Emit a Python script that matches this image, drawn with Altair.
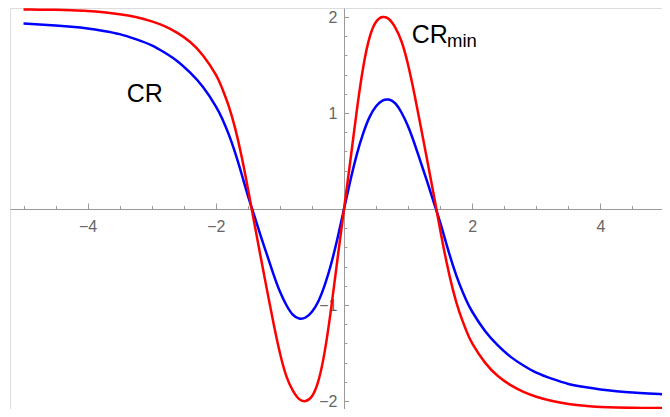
import altair as alt
import pandas as pd

# ---- data ----
x_vals = [-5.0, -4.75, -4.5, -4.25, -4.0, -3.75, -3.5, -3.25, -3.0, -2.8, -2.6, -2.4, -2.2, -2.0,
          -1.9, -1.8, -1.7, -1.6, -1.5, -1.4, -1.3, -1.2, -1.1, -1.0, -0.9, -0.8,
          -0.7, -0.6, -0.5, -0.4, -0.3, -0.2, -0.1, 0.0,
          0.1, 0.2, 0.3, 0.4, 0.5, 0.6, 0.7, 0.8, 0.9, 1.0, 1.1, 1.2, 1.3, 1.4,
          1.5, 1.6, 1.7, 1.8, 1.9, 2.0, 2.2, 2.4, 2.6, 2.8, 3.0, 3.25, 3.5, 3.75,
          4.0, 4.25, 4.5, 4.75, 5.0]

cr_min = [2.078, 2.077, 2.075, 2.07, 2.063, 2.05, 2.03, 2.00, 1.955, 1.905, 1.835, 1.74, 1.60, 1.40,
          1.255, 1.075, 0.845, 0.555, 0.215, -0.145, -0.50, -0.85, -1.19, -1.50, -1.74, -1.89,
          -1.98, -2.00, -1.95, -1.79, -1.48, -1.03, -0.51, 0.0,
          0.51, 1.03, 1.48, 1.79, 1.95, 2.00, 1.98, 1.89, 1.74, 1.50, 1.19, 0.85, 0.50, 0.145,
          -0.215, -0.555, -0.845, -1.075, -1.255, -1.40, -1.60, -1.74, -1.835, -1.905, -1.955, -2.00, -2.03, -2.05,
          -2.062, -2.068, -2.071, -2.072, -2.072]

cr = [1.932, 1.923, 1.912, 1.898, 1.88, 1.855, 1.822, 1.77, 1.705, 1.63, 1.54, 1.42, 1.27, 1.07,
      0.94, 0.78, 0.59, 0.37, 0.14, -0.07, -0.28, -0.48, -0.68, -0.86, -1.00, -1.10,
      -1.14, -1.13, -1.07, -0.96, -0.79, -0.57, -0.30, 0.0,
      0.30, 0.57, 0.79, 0.96, 1.07, 1.13, 1.14, 1.10, 1.00, 0.86, 0.68, 0.48, 0.28, 0.07,
      -0.14, -0.37, -0.59, -0.78, -0.94, -1.07, -1.27, -1.42, -1.54, -1.63, -1.705, -1.77, -1.822, -1.855,
      -1.88, -1.898, -1.912, -1.922, -1.93]

x_major = [-4, -2, 2, 4]
x_minor = [-5, -4.5, -3.5, -3, -2.5, -1.5, -1, -0.5, 0.5, 1, 1.5, 2.5, 3, 3.5, 4.5]
y_major = [-2, -1, 1, 2]
y_minor = [-1.8, -1.6, -1.4, -1.2, -0.8, -0.6, -0.4, -0.2, 0.2, 0.4, 0.6, 0.8, 1.2, 1.4, 1.6, 1.8]

ann_main_text = ["CR", "CR"]
ann_main_x = [-3.39, 1.057]
ann_main_y = [1.118, 1.726]
ann_sub_text = ["min"]
ann_sub_x = [1.607]
ann_sub_y = [1.691]

# ---- layout ----
PAD_L = 2
W, H = 652, 401
XMIN = -5.211
XMAX = XMIN + W / 64.1
YMAX = 2.094
YMIN = YMAX - H / 96.0
X0 = W * (0 - XMIN) / (XMAX - XMIN)   # pixel of x = 0 inside plot
Y0 = H * (YMAX - 0) / (YMAX - YMIN)   # pixel of y = 0 inside plot

AX = "#9a9a9a"
LBL = "#666666"
FONT = "Liberation Sans"

xscale = alt.Scale(domain=[XMIN, XMAX], nice=False, zero=False)
yscale = alt.Scale(domain=[YMIN, YMAX], nice=False, zero=False)

df_red = pd.DataFrame({"x": x_vals, "y": cr_min})
df_blue = pd.DataFrame({"x": x_vals, "y": cr})
df_main = pd.DataFrame({"x": ann_main_x, "y": ann_main_y, "t": ann_main_text})
df_sub = pd.DataFrame({"x": ann_sub_x, "y": ann_sub_y, "t": ann_sub_text})

x_lab_axis = alt.Axis(orient="bottom", offset=-(H - Y0), values=x_major, ticks=False, tickSize=0,
                      grid=False, domain=True, domainColor=AX, domainWidth=1,
                      labelPadding=9, labelFontSize=16, labelColor=LBL, labelFont=FONT, title=None)
y_lab_axis = alt.Axis(orient="left", offset=-X0, values=y_major, ticks=False, tickSize=0,
                      grid=False, domain=True, domainColor=AX, domainWidth=1,
                      labelPadding=7, labelFontSize=16, labelColor=LBL, labelFont=FONT, title=None)
x_maj_axis = alt.Axis(orient="top", offset=-Y0, values=x_major, ticks=True, tickSize=6,
                      tickColor=AX, labels=False, domain=False, grid=False, title=None)
y_maj_axis = alt.Axis(orient="right", offset=-(W - X0), values=y_major, ticks=True, tickSize=4.5,
                      tickColor=AX, labels=False, domain=False, grid=False, title=None)
x_min_axis = alt.Axis(orient="top", offset=-Y0, values=x_minor, ticks=True, tickSize=3.5,
                      tickColor=AX, labels=False, domain=False, grid=False, title=None)
y_min_axis = alt.Axis(orient="right", offset=-(W - X0), values=y_minor, ticks=True, tickSize=2.8,
                      tickColor=AX, labels=False, domain=False, grid=False, title=None)

blue = alt.Chart(df_blue).mark_line(color="#0000ff", strokeWidth=2.5, interpolate="natural").encode(
    x=alt.X("x:Q", scale=xscale, axis=x_maj_axis),
    y=alt.Y("y:Q", scale=yscale, axis=y_maj_axis),
)
red = alt.Chart(df_red).mark_line(color="#ff0000", strokeWidth=2.5, interpolate="natural").encode(
    x=alt.X("x:Q", scale=xscale, axis=x_lab_axis),
    y=alt.Y("y:Q", scale=yscale, axis=y_lab_axis),
)
main_txt = alt.Chart(df_main).mark_text(align="left", baseline="alphabetic", fontSize=25,
                                         font=FONT, color="black").encode(
    x=alt.X("x:Q", scale=xscale, axis=x_min_axis),
    y=alt.Y("y:Q", scale=yscale, axis=y_min_axis),
    text="t:N",
)
sub_txt = alt.Chart(df_sub).mark_text(align="left", baseline="alphabetic", fontSize=18.5,
                                       font=FONT, color="black").encode(
    x=alt.X("x:Q", scale=xscale, axis=None),
    y=alt.Y("y:Q", scale=yscale, axis=None),
    text="t:N",
)

chart = alt.layer(blue, red, main_txt, sub_txt).resolve_axis(
    x="independent", y="independent"
).properties(
    width=W, height=H,
    autosize=alt.AutoSizeParams(type="none"),
    padding={"left": PAD_L, "top": 0, "right": 0, "bottom": 0},
).configure_view(stroke=None).configure(background="white")

chart.save("out.html", embed_options={"renderer": "svg", "actions": False})
